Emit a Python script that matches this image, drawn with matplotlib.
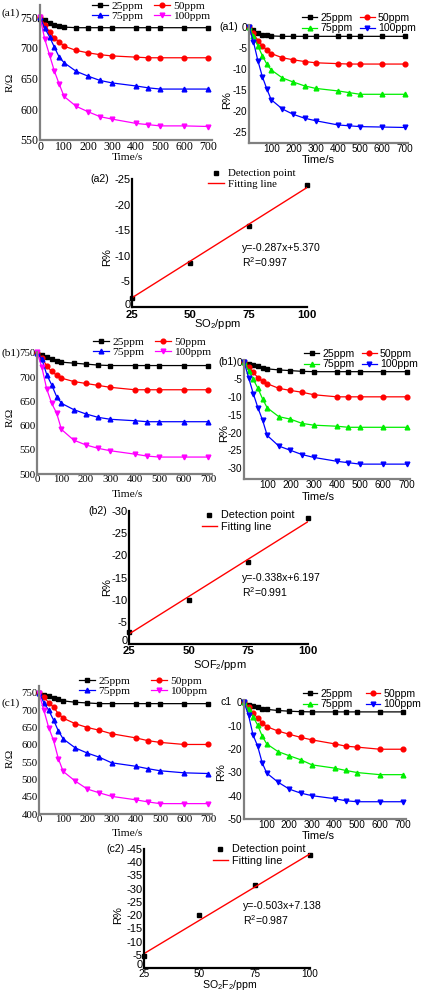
import numpy as np
import matplotlib.pyplot as plt
from matplotlib.transforms import ScaledTranslation

plt.rcParams['axes.unicode_minus'] = False
plt.rcParams['mathtext.fontset'] = 'custom'
plt.rcParams['mathtext.rm'] = 'Liberation Sans'
plt.rcParams['mathtext.it'] = 'Liberation Sans'

W, H = 423, 992
SERIF = 'Liberation Serif'
SANS = 'Liberation Sans'

t = [0, 20, 40, 60, 80, 100, 150, 200, 250, 300, 400, 450, 500, 600, 700]
conc_labels = ['25ppm', '50ppm', '75ppm', '100ppm']
conc = [25, 50, 75, 100]

# (a1) SO2, resistance
a1_r25 = [748, 745, 741, 737, 735, 734, 733, 733, 733, 733, 733, 733, 733, 733, 733]
a1_r50 = [750, 738, 726, 716, 710, 703, 696, 692, 689, 687, 685, 684, 684, 684, 684]
a1_r75 = [750, 732, 718, 701, 685, 676, 662, 654, 647, 643, 638, 635, 633, 633, 633]
a1_r100 = [750, 714, 688, 662, 641, 621, 605, 596, 588, 584, 577, 575, 573, 573, 572]
# (a1) SO2, response
a1_p25 = [0, -0.8, -1.4, -1.8, -2.0, -2.1, -2.2, -2.2, -2.2, -2.2, -2.2, -2.2, -2.2, -2.2, -2.2]
a1_p50 = [0, -1.5, -3.2, -4.4, -5.5, -6.3, -7.3, -7.8, -8.2, -8.5, -8.7, -8.8, -8.8, -8.8, -8.8]
a1_p75 = [0, -2.2, -4.5, -6.8, -8.8, -10.2, -12.1, -13.1, -14.0, -14.6, -15.2, -15.6, -16.0, -16.0, -16.0]
a1_p100 = [0, -3.5, -8.0, -11.8, -14.7, -17.3, -19.5, -20.8, -21.7, -22.3, -23.3, -23.5, -23.7, -23.8, -23.9]

# (b1) SOF2
b1_r25 = [750, 746, 742, 738, 734, 731, 729, 727, 725, 724, 724, 724, 724, 724, 724]
b1_r50 = [750, 740, 723, 712, 704, 698, 691, 687, 683, 679, 674, 674, 674, 674, 674]
b1_r75 = [750, 737, 705, 684, 660, 646, 633, 624, 617, 613, 610, 608, 608, 608, 608]
b1_r100 = [752, 720, 675, 646, 626, 592, 570, 560, 553, 548, 541, 537, 535, 535, 535]
b1_p25 = [0, -0.5, -1.0, -1.3, -1.7, -2.0, -2.3, -2.5, -2.7, -2.8, -2.8, -2.8, -2.8, -2.8, -2.8]
b1_p50 = [0, -1.5, -3.0, -4.5, -5.5, -6.2, -7.5, -8.1, -8.6, -9.3, -9.9, -9.9, -9.9, -9.9, -9.9]
b1_p75 = [0, -2.5, -5.0, -7.5, -10.5, -13.0, -15.5, -16.2, -17.4, -17.9, -18.2, -18.5, -18.5, -18.5, -18.5]
b1_p100 = [0, -4.5, -9.0, -13.0, -16.5, -20.8, -23.8, -25.0, -26.2, -27.0, -28.1, -28.5, -28.9, -28.9, -28.9]

# (c1) SO2F2
c1_r25 = [750, 745, 740, 736, 731, 727, 723, 721, 719, 719, 719, 719, 719, 719, 719]
c1_r50 = [750, 738, 722, 709, 690, 677, 661, 650, 642, 632, 620, 612, 607, 601, 601]
c1_r75 = [750, 722, 700, 672, 640, 617, 591, 576, 564, 548, 538, 531, 525, 519, 517]
c1_r100 = [750, 700, 650, 613, 560, 523, 495, 472, 461, 451, 441, 435, 430, 430, 430]
c1_p25 = [0, -1.0, -1.6, -2.2, -2.7, -3.0, -3.5, -3.8, -4.0, -4.1, -4.1, -4.1, -4.1, -4.1, -4.1]
c1_p50 = [0, -2.0, -4.7, -6.6, -8.7, -10.4, -12.3, -13.7, -15.0, -16.1, -17.8, -18.8, -19.2, -20.1, -20.1]
c1_p75 = [0, -3.0, -6.1, -9.7, -14.4, -17.8, -21.1, -22.9, -24.6, -26.8, -28.2, -29.2, -30.1, -31.0, -31.0]
c1_p100 = [0, -5.5, -14.0, -18.7, -25.8, -30.3, -34.2, -37.2, -38.9, -40.0, -41.3, -42.2, -42.6, -42.6, -42.6]

# detection points and linear fits (slope, intercept, R^2)
a2_pts = [-1.8, -8.6, -15.8, -23.9]
b2_pts = [-2.8, -10.0, -18.5, -28.5]
c2_pts = [-4.5, -20.1, -31.3, -42.9]
a2_fit = (-0.287, 5.370, 0.997)
b2_fit = (-0.338, 6.197, 0.991)
c2_fit = (-0.503, 7.138, 0.987)

left_colors = ['black', '#ff0000', '#0000ff', '#ff00ff']
right_colors = ['black', '#ff0000', '#00ee00', '#0000ff']
markers = ['s', 'o', '^', 'v']

fig = plt.figure(figsize=(W / 100, H / 100), dpi=100)


def box(l, tp, r, b):
    return [l / W, 1 - b / H, (r - l) / W, (b - tp) / H]


def fx(x):
    return x / W


def fy(y):
    return 1 - y / H


def style(ax, family, size, color='#808080'):
    ax.spines['top'].set_visible(False)
    ax.spines['right'].set_visible(False)
    for s in ['left', 'bottom']:
        ax.spines[s].set_linewidth(1.6)
        ax.spines[s].set_color(color)
    ax.tick_params(length=0, labelsize=size, pad=1, labelfontfamily=family)
    ax.patch.set_alpha(0)


def time_panel(rect, series, colors, family, ylim, yticks, xticks, leg_xy, colsp,
               tsize, lsize):
    ax = fig.add_axes(box(*rect))
    hs = []
    for ys, c, m in zip(series, colors, markers):
        h, = ax.plot(t, ys, color=c, marker=m, ms=3.4, lw=0.9, clip_on=False)
        hs.append(h)
    ax.set_xlim(0, 715)
    ax.set_ylim(*ylim)
    ax.set_yticks(yticks)
    ax.set_xticks(xticks)
    style(ax, family, tsize)
    order = [0, 2, 1, 3]
    ax.legend([hs[i] for i in order], [conc_labels[i] for i in order], ncol=2,
              loc='center', bbox_to_anchor=(fx(leg_xy[0]), fy(leg_xy[1])),
              bbox_transform=fig.transFigure, frameon=False,
              prop={'family': family, 'size': lsize}, handlelength=1.4,
              handletextpad=0.3, columnspacing=colsp, labelspacing=0.05, borderpad=0)
    return ax


def fit_panel(rect, pts, fit, ylim, yticks, legend_family, leg_xy, eq_xy, bold_x, xsize, xpad):
    ax = fig.add_axes(box(*rect))
    p, = ax.plot(conc, pts, 's', color='black', ms=2.3, clip_on=False)
    xs = np.array([25, 100])
    l, = ax.plot(xs, fit[0] * xs + fit[1], color='#ff0000', lw=1.0)
    ax.set_xlim(25, 100)
    ax.set_ylim(*ylim)
    ax.set_yticks(yticks)
    ax.set_xticks(conc)
    style(ax, SANS, 8, color='black')
    ax.tick_params(axis='x', labelsize=xsize, pad=xpad)
    if bold_x:
        for lab in ax.get_xticklabels():
            lab.set_fontweight('bold')
    # lift the "0" a little so it sits above the first x label
    zero = ax.get_yticklabels()[0]
    zero.set_transform(zero.get_transform() + ScaledTranslation(0, 0.035, fig.dpi_scale_trans))
    ax.legend([p, l], ['Detection point', 'Fitting line'], loc='center',
              bbox_to_anchor=(fx(leg_xy[0]), fy(leg_xy[1])), bbox_transform=fig.transFigure,
              frameon=False, prop={'family': legend_family, 'size': 7.8},
              handlelength=1.4, handletextpad=0.4, labelspacing=0.1, borderpad=0)
    fig.text(fx(eq_xy[0]), fy(eq_xy[1]), 'y=%.3fx+%.3f' % (fit[0], fit[1]),
             family=SANS, size=7.6, va='center')
    fig.text(fx(eq_xy[0]), fy(eq_xy[1] + 14), 'R$^2$=%.3f' % fit[2],
             family=SANS, size=7.6, va='center')
    return ax


r_ticks = list(range(0, 701, 100))
p_ticks = list(range(100, 701, 100))

# ---- row a ----
time_panel((40, 5, 212, 140), [a1_r25, a1_r50, a1_r75, a1_r100], left_colors, SERIF,
           (550, 770), [550, 600, 650, 700, 750], r_ticks, (151, 11), 0.9, 8.5, 8.2)
time_panel((249, 25, 408, 143), [a1_p25, a1_p50, a1_p75, a1_p100], right_colors, SANS,
           (-27.6, 0.5), [0, -5, -10, -15, -20, -25], p_ticks, (359, 23), 0.7, 7.2, 7.6)
fit_panel((132, 179, 307, 307), a2_pts, a2_fit, (0, -25), [0, -5, -10, -15, -20, -25],
          SERIF, (252, 179), (242, 248), True, 8.2, 2.5)

# ---- row b ----
time_panel((37, 352, 212, 474), [b1_r25, b1_r50, b1_r75, b1_r100], left_colors, SERIF,
           (500, 752), [500, 550, 600, 650, 700, 750], r_ticks, (152, 347), 0.9, 7.8, 8.2)
time_panel((244, 360, 410, 479), [b1_p25, b1_p50, b1_p75, b1_p100], right_colors, SANS,
           (-33.1, 0.5), [0, -5, -10, -15, -20, -25, -30], p_ticks, (361, 359), 0.7, 7.2, 7.6)
fit_panel((129, 511, 308, 644), b2_pts, b2_fit, (0, -30), [0, -5, -10, -15, -20, -25, -30],
          SANS, (248, 521), (242, 578), True, 8.2, 1.5)

# ---- row c ----
time_panel((39, 686, 212, 814), [c1_r25, c1_r50, c1_r75, c1_r100], left_colors, SERIF,
           (400, 770), [400, 450, 500, 550, 600, 650, 700, 750], r_ticks, (143, 686), 1.8,
           7.8, 8.2)
time_panel((244, 700, 406, 819), [c1_p25, c1_p50, c1_p75, c1_p100], right_colors, SANS,
           (-50, 1), [0, -10, -20, -30, -40, -50], p_ticks, (362, 699), 1.2, 7.2, 7.6)
fit_panel((144, 849, 310, 968), c2_pts, c2_fit, (0, -45), list(range(0, -46, -5)),
          SANS, (259, 855), (243, 906), False, 7.2, 0.5)

# axis titles
serif_txt = dict(family=SERIF, size=8.2, ha='center', va='center')
sans_txt = dict(family=SANS, size=8, ha='center', va='center')
for y in [82, 417, 758]:
    fig.text(fx(10), fy(y), 'R/Ω', rotation=90, **serif_txt)
for x, y in [(227, 100), (224, 433), (221, 772), (107, 257), (107, 587), (118, 915)]:
    fig.text(fx(x), fy(y), 'R%', rotation=90, **sans_txt)
for y_l, y_r in [(158, 160), (494, 497), (834, 836)]:
    fig.text(fx(127), fy(y_l), 'Time/s', **serif_txt)
    fig.text(fx(318), fy(y_r), 'Time/s', **sans_txt)
fig.text(fx(217), fy(324), 'SO$_2$/ppm', **sans_txt)
fig.text(fx(220), fy(665), 'SOF$_2$/ppm', **sans_txt)
fig.text(fx(230), fy(985), 'SO$_2$F$_2$/ppm', family=SANS, size=7.6, ha='center', va='center')

# panel tags
tag_l = dict(family=SERIF, size=8.2, ha='left', va='center')
tag_s = dict(family=SANS, size=7.6, ha='left', va='center')
fig.text(fx(2), fy(13), '(a1)', **tag_l)
fig.text(fx(2), fy(353), '(b1)', **tag_l)
fig.text(fx(2), fy(703), '(c1)', **tag_l)
fig.text(fx(219), fy(27), '(a1)', **tag_s)
fig.text(fx(218), fy(362), '(b1)', **tag_s)
fig.text(fx(220), fy(702), 'c1', **tag_s)
fig.text(fx(90), fy(179), '(a2)', **tag_s)
fig.text(fx(88), fy(511), '(b2)', **tag_s)
fig.text(fx(106), fy(849), '(c2)', **tag_s)

fig.savefig('out.png', dpi=100)
